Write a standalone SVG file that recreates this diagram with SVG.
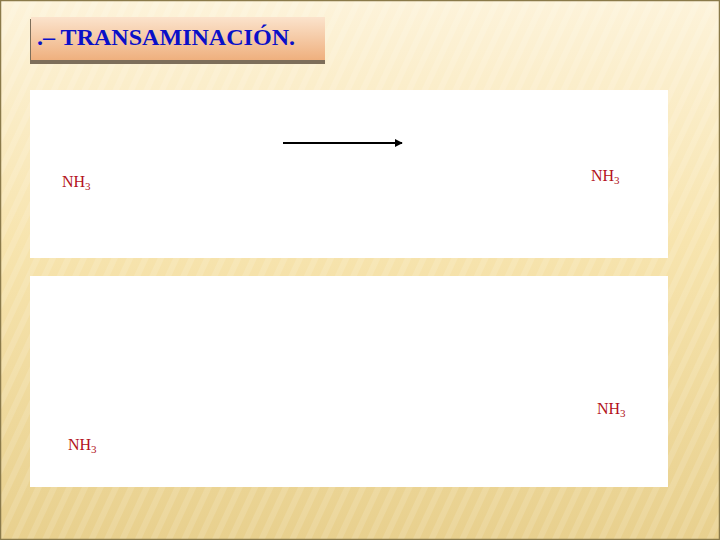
<svg xmlns="http://www.w3.org/2000/svg" width="720" height="540" viewBox="0 0 720 540">
  <defs>
    <linearGradient id="bg" x1="0" y1="0" x2="0" y2="1">
      <stop offset="0" stop-color="#fdf3da"/>
      <stop offset="0.45" stop-color="#f7e4ae"/>
      <stop offset="1" stop-color="#e8d08e"/>
    </linearGradient>
    <pattern id="stripes" width="14" height="14" patternUnits="userSpaceOnUse" patternTransform="rotate(25)">
      <rect width="6" height="14" fill="#ffffff" opacity="0.13"/>
    </pattern>
    <linearGradient id="title" x1="0" y1="0" x2="0" y2="1">
      <stop offset="0" stop-color="#fbe3cc"/>
      <stop offset="1" stop-color="#efb07e"/>
    </linearGradient>
    <marker id="arrow" viewBox="0 0 10 10" refX="9" refY="5" markerWidth="4" markerHeight="4" orient="auto">
      <path d="M0,0 L10,5 L0,10 z" fill="#000"/>
    </marker>
    <style>
      .nh { font-family: "Liberation Serif", "Times New Roman", serif; font-size: 16px; fill: #b3141b; }
      .sub { font-size: 11px; }
      .panel { fill: #ffffff; }
    </style>
  </defs>
  <rect x="0" y="0" width="720" height="540" fill="url(#bg)"/>
  <rect x="0" y="0" width="720" height="540" fill="url(#stripes)"/>
  <rect x="0.5" y="0.5" width="719" height="539" fill="none" stroke="#8a7a4a" stroke-width="1.5"/>

  <g id="title-box">
    <rect x="30" y="19" width="295" height="45" fill="#7d6e5a"/>
    <rect x="31" y="17" width="294" height="43" fill="url(#title)"/>
    <text x="37" y="45" font-family="Liberation Serif, Times New Roman, serif" font-size="24" font-weight="bold" fill="#0a10c8" textLength="258" lengthAdjust="spacingAndGlyphs">.– TRANSAMINACIÓN.</text>
  </g>

  <g id="panel-1">
    <rect class="panel" x="30" y="90" width="638" height="168"/>
  </g>
  <g id="panel-2">
    <rect class="panel" x="30" y="276" width="638" height="211"/>
  </g>

  <g id="connectors">
    <line x1="283" y1="143" x2="402" y2="143" stroke="#000" stroke-width="2" marker-end="url(#arrow)"/>
  </g>

  <g id="nh3-1"><text class="nh" x="62" y="187">NH<tspan class="sub" dy="3">3</tspan></text></g>
  <g id="nh3-2"><text class="nh" x="591" y="181">NH<tspan class="sub" dy="3">3</tspan></text></g>
  <g id="nh3-3"><text class="nh" x="597" y="414">NH<tspan class="sub" dy="3">3</tspan></text></g>
  <g id="nh3-4"><text class="nh" x="68" y="450">NH<tspan class="sub" dy="3">3</tspan></text></g>
</svg>
